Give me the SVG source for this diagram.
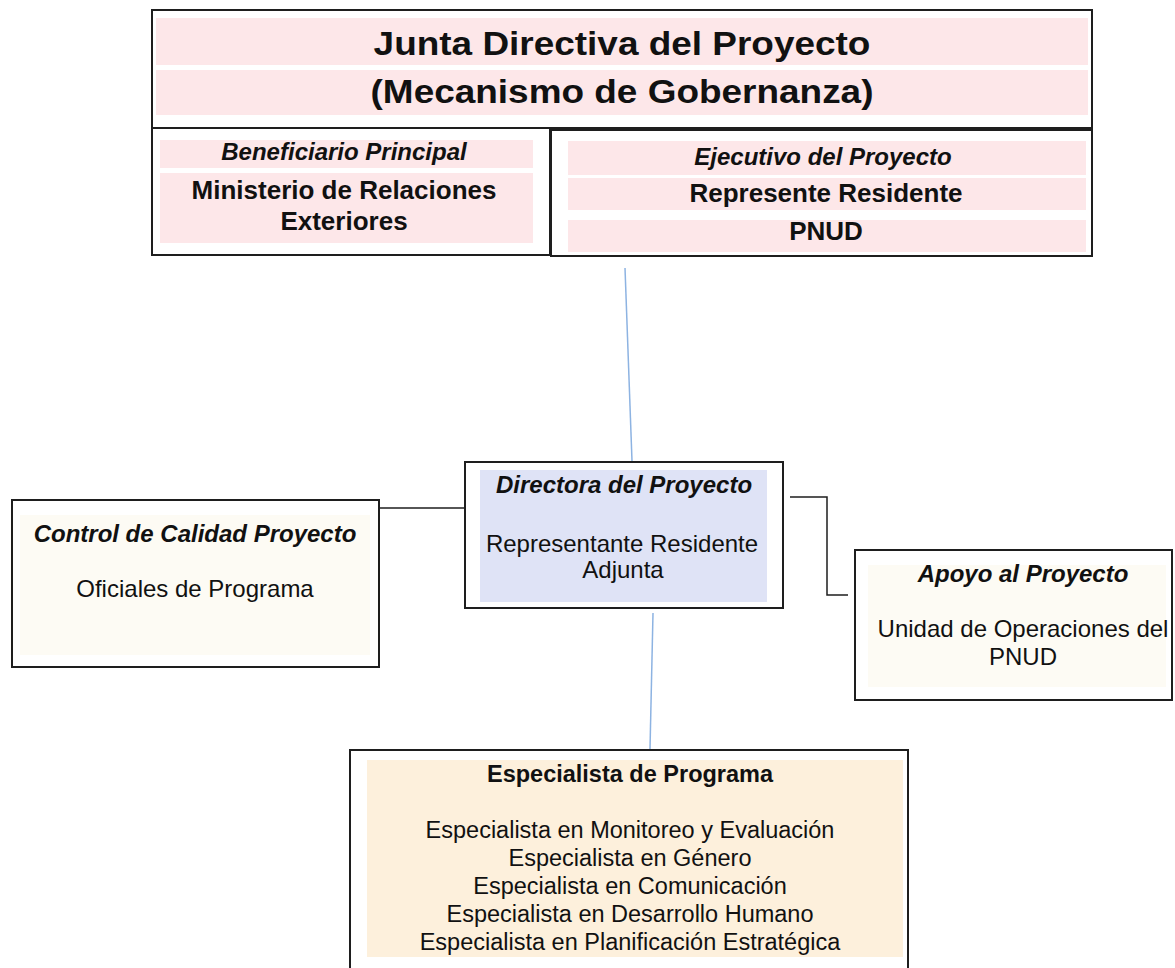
<svg xmlns="http://www.w3.org/2000/svg" width="1175" height="968" viewBox="0 0 1175 968">
<style>
.box{fill:#ffffff;stroke:#1e1e1e;stroke-width:2}
.pink{fill:#fde7e9}
.blue{fill:#dfe3f6}
.yel{fill:#fdf0dc}
.cream{fill:#fdfbf4}
text{font-family:"Liberation Sans",Arial,sans-serif;fill:#111;text-anchor:middle}
.t1{font-size:33px;font-weight:bold}
.h2{font-size:26px;font-weight:bold}
.hi{font-size:24px;font-weight:bold;font-style:italic}
.r{font-size:24px}
.rs{font-size:23.5px}
.bs{font-size:23.5px;font-weight:bold}
.conn{fill:none;stroke:#1e1e1e;stroke-width:1.5}
.bl{fill:none;stroke:#8db3e2;stroke-width:1.5}
</style>
<rect width="1175" height="968" fill="#ffffff"/>
<g id="junta">
<rect class="box" x="152" y="10" width="940" height="118"/>
<rect class="pink" x="156" y="18" width="932" height="47"/>
<rect class="pink" x="156" y="70" width="932" height="45"/>
<text class="t1" transform="translate(622,55) scale(1.12,1)" x="0" y="0">Junta Directiva del Proyecto</text>
<text class="t1" transform="translate(622,103) scale(1.12,1)" x="0" y="0">(Mecanismo de Gobernanza)</text>
</g>
<g id="beneficiario">
<rect class="box" x="152" y="128" width="398" height="127"/>
<rect class="pink" x="160" y="140" width="373" height="28"/>
<rect class="pink" x="160" y="173" width="373" height="70"/>
<text class="hi" x="344" y="160">Beneficiario Principal</text>
<text class="h2" x="344" y="199">Ministerio de Relaciones</text>
<text class="h2" x="344" y="230">Exteriores</text>
</g>
<g id="ejecutivo">
<rect class="box" x="551" y="130" width="541" height="126"/>
<rect class="pink" x="568" y="141" width="518" height="34"/>
<rect class="pink" x="568" y="178" width="518" height="32"/>
<rect class="pink" x="568" y="220" width="518" height="32"/>
<text class="hi" x="823" y="165">Ejecutivo del Proyecto</text>
<text class="h2" x="826" y="202">Represente Residente</text>
<text class="h2" x="826" y="240">PNUD</text>
</g>
<g id="connectors">
<line class="bl" x1="625" y1="268" x2="632" y2="461"/>
<line class="bl" x1="653" y1="613" x2="650" y2="749"/>
<line class="conn" x1="379" y1="508" x2="465" y2="508"/>
<polyline class="conn" points="790,497 827,497 827,595 848,595"/>
</g>
<g id="directora">
<rect class="box" x="465" y="462" width="318" height="146"/>
<rect class="blue" x="480" y="470" width="287" height="132"/>
<text class="hi" x="624" y="493">Directora del Proyecto</text>
<text class="r" x="622" y="552">Representante Residente</text>
<text class="r" x="623" y="578">Adjunta</text>
</g>
<g id="control">
<rect class="box" x="12" y="500" width="367" height="167"/>
<rect class="cream" x="20" y="515" width="350" height="140"/>
<text class="hi" x="195" y="542">Control de Calidad Proyecto</text>
<text class="r" x="195" y="597">Oficiales de Programa</text>
</g>
<g id="apoyo">
<rect class="box" x="855" y="550" width="317" height="150"/>
<rect class="cream" x="868" y="565" width="298" height="122"/>
<text class="hi" x="1023" y="582">Apoyo al Proyecto</text>
<text class="r" x="1023" y="637">Unidad de Operaciones del</text>
<text class="r" x="1023" y="665">PNUD</text>
</g>
<g id="especialista">
<rect class="box" x="350" y="750" width="558" height="230"/>
<rect class="yel" x="367" y="760" width="536" height="197"/>
<text class="bs" x="630" y="782">Especialista de Programa</text>
<text class="rs" x="630" y="838">Especialista en Monitoreo y Evaluación</text>
<text class="rs" x="630" y="866">Especialista en Género</text>
<text class="rs" x="630" y="894">Especialista en Comunicación</text>
<text class="rs" x="630" y="922">Especialista en Desarrollo Humano</text>
<text class="rs" x="630" y="950">Especialista en Planificación Estratégica</text>
</g>
</svg>
